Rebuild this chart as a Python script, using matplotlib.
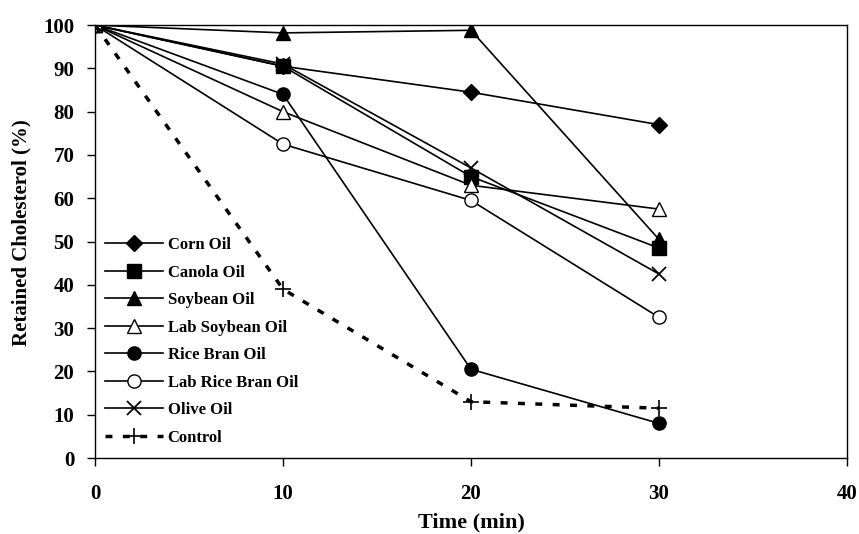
"""Retained cholesterol vs heating time for several oils."""
import matplotlib
matplotlib.use('Agg')
import matplotlib.pyplot as plt

time_min = [0, 10, 20, 30]

corn_oil = [100, 90.5, 84.5, 77]
canola_oil = [100, 90.5, 65, 48.5]
soybean_oil = [100, 98.2, 98.8, 50.5]
lab_soybean_oil = [100, 80, 63, 57.5]
rice_bran_oil = [100, 84, 20.5, 8]
lab_rice_bran_oil = [100, 72.5, 59.5, 32.5]
olive_oil = [100, 91, 67, 42.5]
control = [100, 39, 13, 11.5]

plt.rcParams['font.family'] = ['Liberation Serif', 'DejaVu Serif']
plt.rcParams['font.weight'] = 'bold'

fig = plt.figure(figsize=(8.59, 5.34), dpi=100)
ax = fig.add_axes([0.1106, 0.1423, 0.8754, 0.8107])

k = dict(color='black', lw=1.2, markersize=9.5, markeredgecolor='black')
ax.plot(time_min, corn_oil, marker='D', markerfacecolor='black', label='Corn Oil',
        color='black', lw=1.2, markersize=8.5)
ax.plot(time_min, canola_oil, marker='s', markerfacecolor='black', label='Canola Oil', **k)
ax.plot(time_min, soybean_oil, marker='^', markerfacecolor='black', label='Soybean Oil', **k)
ax.plot(time_min, lab_soybean_oil, marker='^', markerfacecolor='white', label='Lab Soybean Oil', **k)
ax.plot(time_min, rice_bran_oil, marker='o', markerfacecolor='black', label='Rice Bran Oil', **k)
ax.plot(time_min, lab_rice_bran_oil, marker='o', markerfacecolor='white', label='Lab Rice Bran Oil', **k)
ax.plot(time_min, olive_oil, marker='x', markeredgewidth=1.3, label='Olive Oil', **k)
ax.plot(time_min, control, color='black', lw=2.5, ls=(0, (2, 3)), marker='+',
        markersize=12, markeredgewidth=1.2, label='Control')

ax.set_xlim(0, 40)
ax.set_ylim(0, 100)
ax.set_xticks([0, 10, 20, 30, 40])
ax.set_yticks(range(0, 101, 10))
ax.tick_params(axis='both', direction='out', length=6, width=1, labelsize=15)
ax.tick_params(axis='x', pad=13)
ax.tick_params(axis='y', pad=9)
for s in ax.spines.values():
    s.set_linewidth(1)

ax.set_xlabel('Time (min)', fontsize=16, fontweight='bold', labelpad=6)
ax.set_ylabel('Retained Cholesterol (%)', fontsize=15, fontweight='bold')
ax.yaxis.set_label_coords(-0.084, 0.52)

leg = ax.legend(loc='upper left', bbox_to_anchor=(0.0133, 0.51), frameon=False,
                fontsize=12, handlelength=3.5, handletextpad=0.25,
                labelspacing=0.69, borderpad=0, borderaxespad=0)

fig.savefig('out.png', dpi=100)
